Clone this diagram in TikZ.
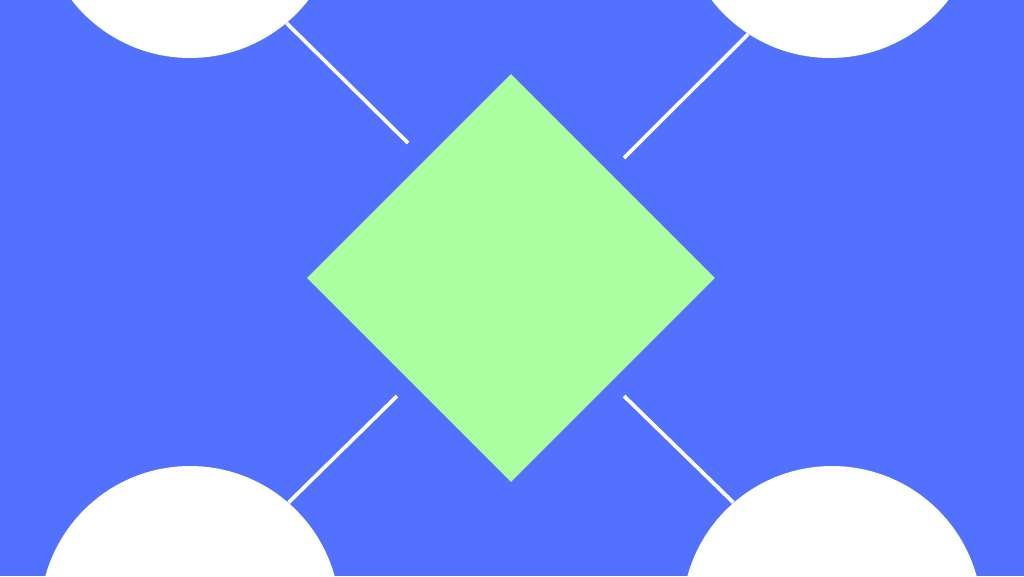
\documentclass[tikz,border=0pt]{standalone}
\usetikzlibrary{shapes.geometric}
\definecolor{mblue}{RGB}{82, 113, 255}
\definecolor{mgreen}{RGB}{171, 255, 161}
\tikzset{blob/.style = {circle, fill=white, minimum size=6cm, inner sep=0pt},
         link/.style = {white, line width=2.1pt}}

\begin{document}
\begin{tikzpicture}[x=0.02cm, y=-0.02cm]
    \clip (0, 0) rectangle (1024, 576);
    \useasboundingbox (0, 0) rectangle (1024, 576);
    \fill [mblue] (0, 0) rectangle (1024, 576);

    \node [diamond, fill=mgreen, minimum size=8.16cm, inner sep=0pt, aspect=1] (core) at (511, 278) {};

    \node [blob] (tl) at (190, -92) {};
    \node [blob] (tr) at (830, -92) {};
    \node [blob] (bl) at (190, 616) {};
    \node [blob] (br) at (832, 616) {};

    \coordinate (tlend) at (408, 143);
    \coordinate (trend) at (624, 158);
    \coordinate (blend) at (397, 396);
    \coordinate (brend) at (624, 396);

    \draw [link] (tl.-50) -- (tlend);
    \draw [link] (tr.-123) -- (trend);
    \draw [link] (bl.49) -- (blend);
    \draw [link] (br.131) -- (brend);
  \end{tikzpicture}
\end{document}
